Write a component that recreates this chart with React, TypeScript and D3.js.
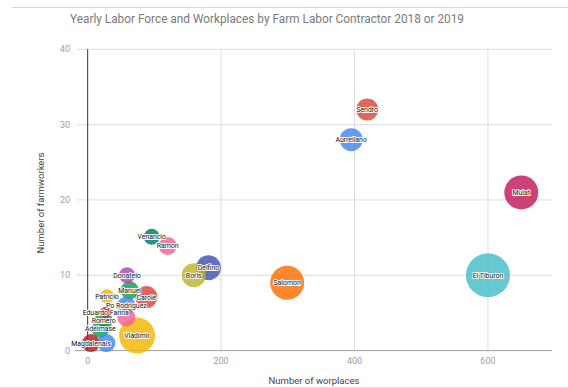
import React from "react";
import * as d3 from "d3";

const W = 568;
const H = 388;

const title = "Yearly Labor Force and Workplaces by Farm Labor Contractor 2018 or 2019";
const xTitle = "Number of worplaces";
const yTitle = "Number of farmworkers";

const names = [
  "Sendro", "Aurreliano", "Mulat", "El Tiburon", "Salomon", "Delfino", "Boris",
  "Venancio", "Ramon", "Donatelo", "Manuel", "Carole", "Patricio", "Po Rodriguez",
  "Eduardo Farina", "Romero", "", "Adelmase", "Magdalenais", "", "Vladimir",
];
const workplaces = [419, 395, 650, 600, 299, 181, 159, 96, 120, 59, 63, 88, 29, 58, 27, 24, 58, 19, 5, 28, 74];
const farmworkers = [32, 28, 21, 10, 9, 11, 10, 15.1, 13.9, 10, 8, 7.1, 7.2, 6.0, 5.1, 4.0, 4.4, 2.9, 1.0, 1, 2];
const bubbleSize = [44, 46, 68, 88, 68, 50, 48, 32, 36, 32, 36, 44, 28, 36, 22, 36, 36, 36, 36, 36, 72];
const colors = [
  "#db4437", "#4285f4", "#c2185b", "#46bdc6", "#ff6d01", "#3f51b5", "#bdb52a",
  "#00796b", "#f06292", "#ab47bc", "#0f9d58", "#db4437", "#f4b400", "#4285f4",
  "#a8174f", "#0f9d58", "#f06292", "#0f9d58", "#b71c1c", "#4285f4", "#f4b400",
];

const xTicks = [0, 200, 400, 600];
const yTicks = [0, 10, 20, 30, 40];

export default function App() {
  const x = d3.scaleLinear().domain([-16, 696]).range([77, 552]);
  const y = d3.scaleLinear().domain([0, 40]).range([350.6, 49.3]);
  const r = d3.scaleLinear().domain([0, 100]).range([0, 25]);

  const idx = d3.range(names.length).sort((a, b) => bubbleSize[b] - bubbleSize[a]);

  return (
    <svg
      width={W}
      height={H}
      style={{ position: "absolute", left: 0, top: 0, background: "#fff" }}
      fontFamily="Roboto, 'Noto Sans', sans-serif"
    >
      <rect x={0} y={0} width={W} height={H} fill="#fff" />
      <line x1={12} x2={W} y1={7.5} y2={7.5} stroke="#d6d6d6" />
      <line x1={0} x2={W} y1={387.5} y2={387.5} stroke="#e0e0e0" />

      <text x={267} y={23} textAnchor="middle" fontSize={12.5} fill="#7a7a7a" textLength={394} lengthAdjust="spacingAndGlyphs">
        {title}
      </text>

      {yTicks.slice(1).map((t) => (
        <line key={"gy" + t} x1={77} x2={552} y1={y(t)} y2={y(t)} stroke="#dcdcdc" />
      ))}
      {xTicks.slice(1).map((t) => (
        <line key={"gx" + t} x1={x(t)} x2={x(t)} y1={y(40)} y2={y(0)} stroke="#dcdcdc" />
      ))}
      <line x1={75} x2={552} y1={y(0)} y2={y(0)} stroke="#9e9e9e" />
      <line x1={x(0)} x2={x(0)} y1={y(40)} y2={y(0)} stroke="#333" />

      {yTicks.map((t) => (
        <text key={"ty" + t} x={70} y={y(t) + 3} textAnchor="end" fontSize={9} fill="#9e9e9e">
          {t}
        </text>
      ))}
      {xTicks.map((t) => (
        <text key={"tx" + t} x={x(t)} y={364} textAnchor="middle" fontSize={9} fill="#9e9e9e">
          {t}
        </text>
      ))}

      <text x={314} y={384} textAnchor="middle" fontSize={9.5} fill="#444">
        {xTitle}
      </text>
      <text
        transform={`translate(44,203) rotate(-90)`}
        textAnchor="middle"
        fontSize={9.5}
        fill="#444"
      >
        {yTitle}
      </text>

      {idx.map((i) => (
        <circle
          key={"c" + i}
          cx={x(workplaces[i])}
          cy={y(farmworkers[i])}
          r={r(bubbleSize[i])}
          fill={colors[i]}
          fillOpacity={0.82}
        />
      ))}
      {idx.map((i) =>
        names[i] ? (
          <text
            key={"l" + i}
            x={x(workplaces[i])}
            y={y(farmworkers[i]) + 2.5}
            textAnchor="middle"
            fontSize={6.9}
            fill="#111"
            stroke="#fff"
            strokeWidth={1.8}
            strokeLinejoin="round"
            style={{ paintOrder: "stroke" }}
          >
            {names[i]}
          </text>
        ) : null
      )}
    </svg>
  );
}
